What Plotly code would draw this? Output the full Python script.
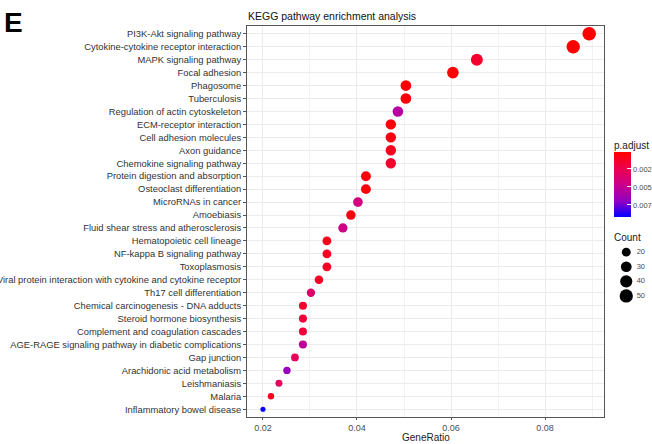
import math
import plotly.graph_objects as go

pathways = [
    "PI3K-Akt signaling pathway",
    "Cytokine-cytokine receptor interaction",
    "MAPK signaling pathway",
    "Focal adhesion",
    "Phagosome",
    "Tuberculosis",
    "Regulation of actin cytoskeleton",
    "ECM-receptor interaction",
    "Cell adhesion molecules",
    "Axon guidance",
    "Chemokine signaling pathway",
    "Protein digestion and absorption",
    "Osteoclast differentiation",
    "MicroRNAs in cancer",
    "Amoebiasis",
    "Fluid shear stress and atherosclerosis",
    "Hematopoietic cell lineage",
    "NF-kappa B signaling pathway",
    "Toxoplasmosis",
    "Viral protein interaction with cytokine and cytokine receptor",
    "Th17 cell differentiation",
    "Chemical carcinogenesis - DNA adducts",
    "Steroid hormone biosynthesis",
    "Complement and coagulation cascades",
    "AGE-RAGE signaling pathway in diabetic complications",
    "Gap junction",
    "Arachidonic acid metabolism",
    "Leishmaniasis",
    "Malaria",
    "Inflammatory bowel disease",
]
gene_ratio = [0.0894, 0.0860, 0.0655, 0.0604, 0.0504, 0.0504, 0.0487, 0.0472, 0.0472, 0.0472,
              0.0472, 0.0419, 0.0419, 0.0402, 0.0387, 0.0370, 0.0336, 0.0336, 0.0336, 0.0319,
              0.0302, 0.0285, 0.0285, 0.0285, 0.0285, 0.0268, 0.0251, 0.0234, 0.0217, 0.0200]
counts = [53, 51, 39, 36, 30, 30, 29, 28, 28, 28,
          28, 25, 25, 24, 23, 22, 20, 20, 20, 19,
          18, 17, 17, 17, 17, 16, 15, 14, 13, 12]
p_adjust = [0.0002, 0.0002, 0.0015, 0.0003, 0.0003, 0.0004, 0.0055, 0.0004, 0.0006, 0.0010,
            0.0015, 0.0005, 0.0005, 0.0042, 0.0007, 0.0045, 0.0009, 0.0012, 0.0012, 0.0012,
            0.0035, 0.0015, 0.0018, 0.0018, 0.0052, 0.0028, 0.0068, 0.0030, 0.0012, 0.0092]
colorbar_ticks = [0.0025, 0.005, 0.0075]
colorbar_ticktext = ["0.002", "0.005", "0.007"]
size_legend_counts = [20, 30, 40, 50]
x_ticks = [0.02, 0.04, 0.06, 0.08]

W, H = 652, 444
ML, MR, MT, MB = 247, 2, 26, 27
PW = W - ML - MR          # paper width in px
PH = H - MT - MB          # paper height in px
PANEL_R = 604             # right edge of the panel in px


def px_x(px):
    return (px - ML) / PW


def px_y(py):
    return (H - MB - py) / PH


# ggplot-like size scale: sqrt-rescaled count onto a 3..8 range
C_LO, C_HI = min(counts), max(counts)
PX_PER_UNIT = 1.7


def dot_size(c):
    return PX_PER_UNIT * (3 + 5 * math.sqrt((c - C_LO) / (C_HI - C_LO)))


# red (low p) -> blue (high p); colour value is -p so red sits on top of the bar
cscale = [[0.0, "#0000FF"], [0.25, "#9400C2"], [0.5, "#CB008A"], [0.75, "#EC004E"], [1.0, "#FF0000"]]
cmax = -0.00014
cmin = -0.00917

fig = go.Figure()
fig.add_trace(go.Scatter(
    x=gene_ratio, y=pathways, mode="markers",
    marker=dict(size=[dot_size(c) for c in counts], sizemode="diameter", opacity=1,
                color=[-p for p in p_adjust], colorscale=cscale, cmin=cmin, cmax=cmax,
                line=dict(width=0),
                colorbar=dict(
                    x=px_x(614), xanchor="left", y=px_y(152), yanchor="top",
                    len=65, lenmode="pixels", thickness=17, thicknessmode="pixels",
                    xpad=0, ypad=0, outlinewidth=0,
                    tickvals=[-t for t in colorbar_ticks], ticktext=colorbar_ticktext,
                    ticks="inside", ticklen=4, tickcolor="white",
                    tickfont=dict(size=7.5, color="#4D4D4D"))),
    showlegend=False, xaxis="x", yaxis="y"))

# size legend
fig.add_trace(go.Scatter(
    x=[0.375] * len(size_legend_counts), y=list(range(len(size_legend_counts))),
    mode="markers", marker=dict(size=[dot_size(c) for c in size_legend_counts],
                                sizemode="diameter", color="black", opacity=1, line=dict(width=0)),
    showlegend=False, xaxis="x2", yaxis="y2", hoverinfo="skip"))
fig.add_trace(go.Scatter(
    x=[0.65] * len(size_legend_counts), y=list(range(len(size_legend_counts))),
    mode="text", text=[str(c) for c in size_legend_counts], textposition="middle right",
    textfont=dict(size=7.5, color="#4D4D4D"),
    showlegend=False, xaxis="x2", yaxis="y2", hoverinfo="skip"))

fig.add_annotation(text="Count", xref="x2", yref="y2", x=0.0, y=-0.97,
                   xanchor="left", yanchor="middle", showarrow=False,
                   font=dict(size=10, color="#222"))
fig.add_annotation(text="p.adjust", xref="paper", yref="paper", x=px_x(612), y=px_y(145),
                   xanchor="left", yanchor="middle", showarrow=False,
                   font=dict(size=10, color="#222"))
fig.add_annotation(text="<b>E</b>", xref="paper", yref="paper", x=px_x(2), y=px_y(22),
                   xanchor="left", yanchor="middle", showarrow=False,
                   font=dict(size=28, color="black", family="Liberation Sans, Arial, sans-serif"))
fig.add_annotation(text="KEGG pathway enrichment analysis", xref="paper", yref="paper",
                   x=px_x(246), y=px_y(16), xanchor="left", yanchor="middle",
                   showarrow=False, font=dict(size=10.5, color="#111"))
fig.add_annotation(text="GeneRatio", xref="paper", yref="paper",
                   x=px_x(PANEL_R) / 2, y=px_y(437), xanchor="center", yanchor="middle",
                   showarrow=False, font=dict(size=10, color="#222"))

fig.update_layout(
    width=W, height=H,
    margin=dict(l=ML, r=MR, t=MT, b=MB, autoexpand=False),
    paper_bgcolor="white", plot_bgcolor="white",
    font=dict(family="Liberation Sans, Arial, sans-serif"),
    xaxis=dict(domain=[0, px_x(PANEL_R)], range=[0.0166, 0.09255], tickvals=x_ticks,
               ticktext=[f"{v:.2f}" for v in x_ticks],
               showgrid=True, gridcolor="#EBEBEB", gridwidth=1,
               minor=dict(dtick=0.01, tick0=0.01, showgrid=True, gridcolor="#F2F2F2", gridwidth=0.8),
               zeroline=False, showline=True, linecolor="#555555", linewidth=1, mirror=True,
               ticks="outside", ticklen=2, tickcolor="#555555",
               tickfont=dict(size=9, color="#4D4D4D")),
    yaxis=dict(type="category", categoryorder="array", categoryarray=pathways,
               range=[len(pathways) - 1 + 0.6, -0.6],
               showgrid=True, gridcolor="#EBEBEB", gridwidth=1,
               zeroline=False, showline=True, linecolor="#555555", linewidth=1, mirror=True,
               ticks="outside", ticklen=3, tickcolor="#555555",
               tickfont=dict(size=9.4, color="#333333")),
    xaxis2=dict(domain=[px_x(612), 1.0], range=[0, 1], visible=False, fixedrange=True),
    yaxis2=dict(domain=[px_y(305), px_y(225)], range=[3.62, -1.86],
                visible=False, fixedrange=True, anchor="x2"),
)
fig.write_html("out.html", config={"displayModeBar": False},
               post_script="document.body.style.margin='0';")
